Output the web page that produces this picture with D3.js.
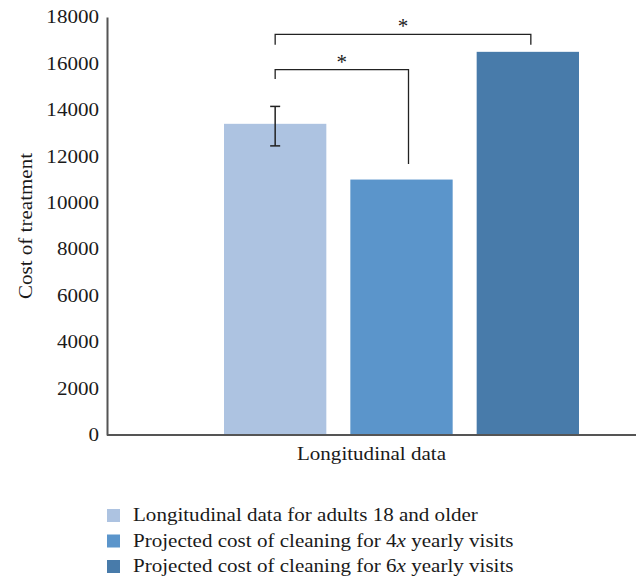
<!DOCTYPE html>
<html>
<head>
<meta charset="utf-8">
<script src="https://cdn.jsdelivr.net/npm/d3@7"></script>
<style>
  body { margin: 0; background: #fff; }
  text { font-family: "Liberation Serif", "DejaVu Serif", serif; fill: #1a1a1a; }
</style>
</head>
<body>
<svg id="chart" width="637" height="579"></svg>
<script>
// data
var seriesNames = [
  "Longitudinal data for adults 18 and older",
  "Projected cost of cleaning for 4x yearly visits",
  "Projected cost of cleaning for 6x yearly visits"
];
var seriesValues = [13400, 11000, 16500];
var errorBar = [12450, 14150];            // low / high on first bar
var seriesColors = ["#adc3e1", "#5b95cb", "#487baa"];
var yTicks = [0, 2000, 4000, 6000, 8000, 10000, 12000, 14000, 16000, 18000];
var category = "Longitudinal data";

// significance brackets: [from bar, to bar, top value, left leg end, right leg end]
var brackets = [
  [0, 2, 17250, 16800, 16800],
  [0, 1, 15730, 15330, 11670]
];

var margin = { top: 17, right: 1, bottom: 144, left: 107 };
var width = 637 - margin.left - margin.right;
var height = 579 - margin.top - margin.bottom;
var stretch = 1.17; // the original face is wider than Times

var svg = d3.select("#chart");
var g = svg.append("g")
  .attr("transform", "translate(" + margin.left + "," + margin.top + ")");

var y = d3.scaleLinear().domain([0, 18000]).range([height, 0]);

// bars sit in a band that starts a bit right of the axis
var x = d3.scaleBand()
  .domain(d3.range(seriesValues.length))
  .range([117, 472])
  .paddingInner(0.19)
  .paddingOuter(0);

// y axis
var yAxis = g.append("g")
  .call(d3.axisLeft(y).tickValues(yTicks).tickSize(0).tickPadding(8).tickFormat(d3.format("d")));
yAxis.select(".domain").attr("stroke", "#555").attr("stroke-width", 2);
yAxis.selectAll("text")
  .style("font-size", "18px")
  .attr("font-family", null)
  .attr("x", 0)
  .attr("transform", "translate(-8,0) scale(" + stretch + ",1)");

// bars
g.selectAll("rect.bar")
  .data(seriesValues)
  .enter().append("rect")
  .attr("class", "bar")
  .attr("x", function (d, i) { return x(i); })
  .attr("y", function (d) { return y(d); })
  .attr("width", x.bandwidth())
  .attr("height", function (d) { return height - y(d); })
  .attr("fill", function (d, i) { return seriesColors[i]; });

// x axis line
g.append("line")
  .attr("x1", 0).attr("x2", width)
  .attr("y1", height).attr("y2", height)
  .attr("stroke", "#555").attr("stroke-width", 2);

g.append("text")
  .attr("transform", "translate(" + (width / 2) + "," + (height + 25) + ") scale(" + stretch + ",1)")
  .attr("text-anchor", "middle")
  .style("font-size", "18px")
  .text(category);

// y label
g.append("text")
  .attr("transform", "translate(" + (-75) + "," + (height / 2) + ") rotate(-90) scale(" + stretch + ",1)")
  .attr("text-anchor", "middle")
  .style("font-size", "18px")
  .text("Cost of treatment");

// error bar
var ex = x(0) + x.bandwidth() / 2;
var eb = g.append("g").attr("stroke", "#222").attr("stroke-width", 1.5);
eb.append("line").attr("x1", ex).attr("x2", ex).attr("y1", y(errorBar[0])).attr("y2", y(errorBar[1]));
eb.append("line").attr("x1", ex - 5).attr("x2", ex + 5).attr("y1", y(errorBar[0])).attr("y2", y(errorBar[0]));
eb.append("line").attr("x1", ex - 5).attr("x2", ex + 5).attr("y1", y(errorBar[1])).attr("y2", y(errorBar[1]));

// brackets
brackets.forEach(function (b) {
  var x1 = x(b[0]) + x.bandwidth() / 2;
  var x2 = x(b[1]) + x.bandwidth() / 2 + (b[1] === 1 ? 7 : 3);
  g.append("path")
    .attr("d", "M" + x1 + "," + y(b[3]) + "V" + y(b[2]) + "H" + x2 + "V" + y(b[4]))
    .attr("fill", "none")
    .attr("stroke", "#222")
    .attr("stroke-width", 1.3);
  g.append("text")
    .attr("x", (x1 + x2) / 2)
    .attr("y", y(b[2]) - 1)
    .attr("text-anchor", "middle")
    .style("font-size", "21px")
    .text("*");
});

// legend
var legend = svg.append("g").attr("transform", "translate(107,509)");
var rows = legend.selectAll("g")
  .data(seriesNames)
  .enter().append("g")
  .attr("transform", function (d, i) { return "translate(0," + (i * 25.5) + ")"; });
rows.append("rect")
  .attr("width", 13).attr("height", 13)
  .attr("fill", function (d, i) { return seriesColors[i]; });
rows.append("text")
  .attr("transform", "translate(26,12) scale(" + stretch + ",1)")
  .style("font-size", "18px")
  .each(function (d) {
    var t = d3.select(this);
    var m = d.match(/^(.* )(\d)x( .*)$/);
    if (m) {
      t.append("tspan").text(m[1] + m[2]);
      t.append("tspan").style("font-style", "italic").text("x");
      t.append("tspan").text(m[3]);
    } else {
      t.text(d);
    }
  });
</script>
</body>
</html>
